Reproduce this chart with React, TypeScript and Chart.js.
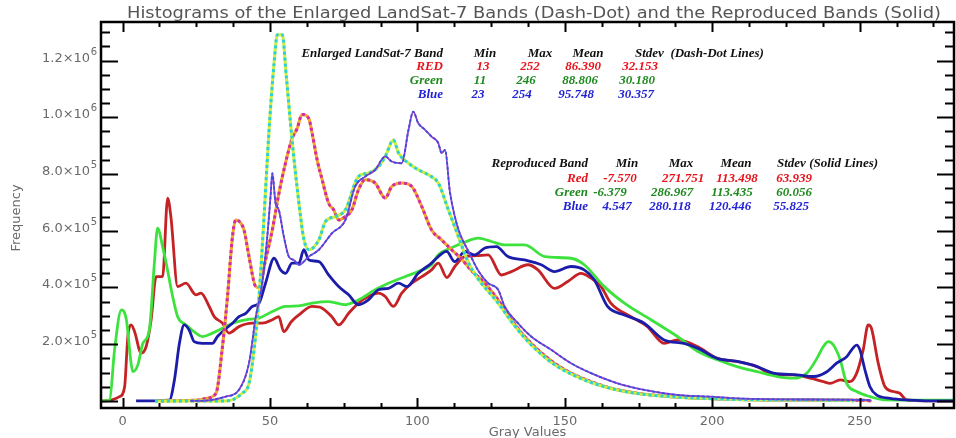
import React, { useEffect, useRef } from "react";
import { Chart, registerables } from "chart.js";
Chart.register(...registerables);

// Frequencies are given in thousands (×1000).
const SCALE = 1000;

const reproducedRedX = [-7.3, -6, -1, 0.7, 1.8, 2.9, 4.1, 6.3, 8, 9.7, 11.4, 13.6, 15.3, 16.4, 18.7, 21.5, 24.9, 26.6, 29.4, 31.1, 33.9, 36.1, 39.5, 44, 47.4, 50.8, 53, 54.7, 57.3, 59.8, 64.3, 67.7, 71, 73.3, 76.7, 80, 83.4, 86.8, 89.1, 91.9, 94.7, 98.1, 101.5, 104.8, 107.1, 110, 112.7, 116.1, 120, 124, 128.5, 131.9, 137.5, 140.9, 146.5, 151, 155.5, 158.9, 162.3, 165.6, 172.4, 178, 183.7, 188.2, 195, 201.7, 208.4, 215.2, 220.8, 227.6, 233.2, 237.7, 240, 243.4, 246.7, 249, 251.2, 252.9, 254, 256.3, 258.6, 261.4, 263.6, 265.9, 273.6, 282];
const reproducedRed = [0, 0, 15, 49, 227, 268, 244, 169, 191, 286, 438, 438, 715, 650, 403, 415, 374, 380, 333, 297, 274, 239, 262, 274, 274, 286, 297, 244, 280, 303, 333, 327, 297, 268, 309, 345, 368, 380, 368, 333, 380, 415, 438, 462, 486, 435, 474, 509, 512, 515, 444, 456, 480, 462, 397, 421, 450, 433, 403, 345, 297, 262, 203, 215, 192, 150, 139, 121, 92, 92, 80, 68, 62, 74, 68, 98, 180, 268, 256, 133, 50, 33, 27, 4, 0, 0];

const reproducedGreenX = [-7.3, -6.6, -4.4, -2.7, -0.4, 1.3, 2.9, 3.5, 5.2, 6.9, 9.1, 10.8, 11.9, 13.6, 14.8, 17, 18.7, 21.5, 24.9, 27.1, 30.5, 33.9, 37.3, 41.8, 46.3, 50.8, 55.3, 59.8, 64.3, 69.9, 75.6, 80, 85.7, 90.2, 95.8, 100.3, 104.8, 107.1, 111.6, 116.1, 120.6, 125.1, 129.6, 136.4, 143.2, 152.1, 156.6, 163.4, 170.2, 179.2, 188.2, 195, 201.7, 208.4, 215.2, 222, 227.6, 232.1, 235.5, 237.7, 239.4, 241.1, 243.4, 245.6, 249, 253.5, 258, 270, 282];
const reproducedGreen = [0, 0, 3, 180, 321, 286, 133, 103, 127, 203, 250, 486, 609, 544, 486, 368, 297, 268, 239, 227, 239, 256, 274, 286, 292, 315, 333, 335, 345, 350, 339, 356, 392, 415, 438, 456, 480, 515, 540, 560, 574, 562, 550, 550, 509, 503, 480, 403, 345, 286, 227, 175, 145, 121, 103, 86, 80, 98, 150, 192, 209, 197, 145, 62, 33, 15, 4, 3, 3];

const reproducedBlueX = [4.6, 15.9, 17.6, 19.3, 20.9, 22.6, 24.3, 27.1, 30.5, 32.2, 34.5, 37.3, 39.5, 41.8, 44, 46.3, 48.5, 51.4, 53.6, 55.3, 57.5, 59.8, 61.5, 63.2, 66.6, 69.9, 73.3, 76.7, 80, 83.4, 86.8, 90.2, 93.6, 96.4, 100.3, 104.8, 107.1, 109.9, 112.7, 116.1, 119.5, 122.9, 126.8, 130.7, 136.4, 142, 146.5, 152.1, 156.6, 160, 164.5, 170.2, 176.9, 183.7, 190.4, 195, 201.7, 208.4, 215.2, 220.8, 228.7, 234.4, 238.9, 242.2, 245.6, 249, 250.1, 251.8, 253.5, 255.7, 260.3, 267, 273.6, 282];
const reproducedBlue = [0, 3, 74, 203, 268, 250, 209, 203, 203, 227, 250, 274, 297, 309, 333, 345, 415, 503, 462, 450, 486, 485, 533, 497, 491, 444, 403, 374, 339, 356, 392, 397, 415, 403, 450, 486, 509, 527, 491, 527, 515, 539, 544, 509, 497, 480, 456, 474, 462, 427, 333, 303, 274, 215, 203, 186, 150, 139, 121, 98, 92, 86, 103, 133, 156, 197, 180, 109, 50, 21, 9, 3, 0, 0];

const enlargedRedX = [13, 26, 28.3, 31.7, 33.9, 35.6, 37.3, 38.4, 40.1, 41.2, 42.9, 45.2, 46.3, 48.5, 50.8, 53, 55.3, 57.5, 59.2, 60.9, 63.2, 64.3, 66, 67.7, 69.9, 71.6, 73.3, 75.6, 77.8, 80, 82.3, 85.7, 89.1, 91.3, 94.7, 98.1, 101.5, 104.8, 108.2, 111.6, 115, 118.3, 122.9, 127.4, 131.9, 136.4, 140.9, 146.5, 152.1, 158.9, 165.6, 174.7, 186, 197.2, 208.4, 230, 252, 254];
const enlargedRed = [0, 3, 9, 27, 192, 368, 580, 638, 627, 603, 509, 403, 400, 497, 603, 730, 840, 925, 960, 1010, 995, 944, 850, 780, 697, 674, 638, 650, 674, 744, 780, 768, 715, 756, 768, 756, 685, 603, 568, 533, 500, 460, 415, 356, 286, 227, 180, 133, 98, 68, 45, 27, 15, 9, 5, 3, 2, 0];

const enlargedGreenX = [11, 35, 40.6, 42.9, 44.6, 46.3, 48, 49.7, 51.4, 52.5, 54.2, 55.5, 57.5, 59.8, 61.5, 63.2, 66.6, 68.8, 72.2, 75.6, 80, 83.4, 86.8, 89.1, 91.9, 93.6, 97, 100.3, 103.7, 107.1, 110.5, 113.9, 117.2, 120.6, 122.9, 127.4, 131.9, 136.4, 140.9, 146.5, 152.1, 158.9, 165.6, 174.7, 186, 197.2, 208.4, 230, 246, 248];
const enlargedGreen = [0, 0, 27, 62, 180, 368, 650, 956, 1191, 1291, 1291, 1150, 920, 700, 570, 533, 568, 632, 650, 674, 791, 803, 826, 862, 920, 874, 838, 815, 797, 768, 674, 580, 490, 430, 400, 345, 280, 222, 175, 128, 95, 65, 44, 26, 15, 9, 5, 3, 2, 0];

const enlargedBlueX = [23, 26, 35, 39.5, 42.9, 45.2, 47.4, 49.1, 50.2, 50.8, 51.9, 53, 54.7, 56.4, 58.1, 59.8, 63.2, 66.6, 71, 75.6, 78.9, 82.3, 85.7, 89.1, 91.3, 94.7, 97, 98.6, 100.3, 102.6, 104.8, 107.1, 108.2, 109.4, 111, 112.7, 114.4, 117.2, 120.6, 124, 127.4, 129.6, 134.1, 138.6, 145.4, 152.1, 158.9, 167.9, 176.9, 188.2, 199.4, 208.4, 230, 253, 254];
const enlargedBlue = [0, 0, 15, 39, 133, 297, 415, 580, 721, 803, 697, 674, 580, 509, 497, 480, 509, 533, 591, 638, 756, 791, 815, 862, 844, 838, 956, 1020, 979, 956, 932, 909, 874, 885, 740, 650, 590, 530, 460, 415, 392, 333, 274, 227, 180, 133, 98, 62, 39, 21, 15, 9, 5, 3, 0];

const xMajorTicks = [0, 50, 100, 150, 200, 250];
const xMinorStep = 12.5;
const yMajorTicks = [200000, 400000, 600000, 800000, 1000000, 1200000];
const yTickLabels = [["2.0×10", "5"], ["4.0×10", "5"], ["6.0×10", "5"], ["8.0×10", "5"], ["1.0×10", "6"], ["1.2×10", "6"]];
const yMinorStep = 50000;

const titleText = "Histograms of the Enlarged LandSat-7 Bands (Dash-Dot) and the Reproduced Bands (Solid)";
const xTitle = "Gray Values";
const yTitle = "Frequency";

const enlargedHeader = ["Enlarged LandSat-7 Band", "Min", "Max", "Mean", "Stdev  (Dash-Dot Lines)"];
const enlargedRows = [
  ["RED", "13", "252", "86.390", "32.153"],
  ["Green", "11", "246", "88.806", "30.180"],
  ["Blue", "23", "254", "95.748", "30.357"],
];
const reproducedHeader = ["Reproduced Band", "Min", "Max", "Mean", "Stdev (Solid Lines)"];
const reproducedRows = [
  ["Red", "-7.570", "271.751", "113.498", "63.939"],
  ["Green", "-6.379", "286.967", "113.435", "60.056"],
  ["Blue", "4.547", "280.118", "120.446", "55.825"],
];
const rowColors = ["#e8141c", "#1f8a1f", "#2424d6"];

function pts(xs: number[], ys: number[]) {
  return xs.map((x, i) => ({ x, y: ys[i] * SCALE }));
}

const overlayPlugin = {
  id: "overlay",
  afterDraw(chart: any) {
    const ctx: CanvasRenderingContext2D = chart.ctx;
    const xs = chart.scales.x;
    const ys = chart.scales.y;
    const { left, right, top, bottom } = chart.chartArea;
    ctx.save();

    // frame
    ctx.strokeStyle = "#000";
    ctx.lineWidth = 2.5;
    ctx.strokeRect(left, top, right - left, bottom - top);

    // x ticks (bottom and top)
    ctx.lineWidth = 2;
    for (let v = 0; v <= xs.max; v += xMinorStep) {
      const px = Math.round(xs.getPixelForValue(v)) + 0.5;
      const major = xMajorTicks.includes(v);
      const len = major ? 10 : 5;
      ctx.beginPath();
      ctx.moveTo(px, bottom);
      ctx.lineTo(px, bottom - len);
      ctx.moveTo(px, top);
      ctx.lineTo(px, top + len);
      ctx.stroke();
    }
    // y ticks (left and right)
    for (let v = 0; v <= ys.max; v += yMinorStep) {
      const py = Math.round(ys.getPixelForValue(v)) + 0.5;
      const major = v % 200000 === 0;
      const len = major ? 17 : 9;
      ctx.beginPath();
      ctx.moveTo(left, py);
      ctx.lineTo(left + len, py);
      ctx.moveTo(right, py);
      ctx.lineTo(right - len, py);
      ctx.stroke();
    }

    // x tick labels
    ctx.fillStyle = "#6a6a6a";
    ctx.font = "13px 'DejaVu Sans'";
    ctx.textAlign = "center";
    ctx.textBaseline = "alphabetic";
    xMajorTicks.forEach((v) => {
      ctx.fillText(String(v), xs.getPixelForValue(v), 425);
    });
    // y tick labels with superscript
    yMajorTicks.forEach((v, i) => {
      const py = ys.getPixelForValue(v);
      const [base, sup] = yTickLabels[i];
      ctx.font = "10px 'DejaVu Sans'";
      const sw = ctx.measureText(sup).width;
      ctx.textAlign = "right";
      ctx.fillText(sup, 97, py - 6);
      ctx.font = "13px 'DejaVu Sans'";
      ctx.fillText(base, 97 - sw - 0.5, py + 1);
    });

    // axis titles
    ctx.font = "13px 'DejaVu Sans'";
    ctx.textAlign = "center";
    ctx.fillText(xTitle, (left + right) / 2, 436);
    ctx.save();
    ctx.translate(20, (top + bottom) / 2 + 3);
    ctx.rotate(-Math.PI / 2);
    ctx.fillText(yTitle, 0, 0);
    ctx.restore();

    // title, stretched to its width in the reference
    ctx.font = "15px 'DejaVu Sans'";
    ctx.fillStyle = "#555";
    const tw = ctx.measureText(titleText).width;
    const target = 814;
    ctx.save();
    ctx.translate(534, 18);
    ctx.scale(target / tw, 1);
    ctx.textAlign = "center";
    ctx.fillText(titleText, 0, 0);
    ctx.restore();

    // tables
    const font = "bold italic 13px 'Liberation Serif'";
    ctx.font = font;
    ctx.textBaseline = "middle";
    const drawTable = (
      header: string[], rows: string[][], hy: number, rowY: number[],
      labelRight: number, hCols: number[], cols: number[][]
    ) => {
      ctx.fillStyle = "#111";
      ctx.textAlign = "right";
      ctx.fillText(header[0], labelRight, hy);
      ctx.textAlign = "center";
      ctx.fillText(header[1], hCols[0], hy);
      ctx.fillText(header[2], hCols[1], hy);
      ctx.fillText(header[3], hCols[2], hy);
      ctx.textAlign = "left";
      ctx.fillText(header[4], hCols[3], hy);
      rows.forEach((r, i) => {
        ctx.fillStyle = rowColors[i];
        ctx.textAlign = "right";
        ctx.fillText(r[0], labelRight, rowY[i]);
        ctx.textAlign = "center";
        for (let c = 1; c < 5; c++) ctx.fillText(r[c], cols[i][c - 1], rowY[i]);
      });
    };
    drawTable(enlargedHeader, enlargedRows, 54, [67, 81, 95], 443,
      [485, 540, 588, 635],
      [[483, 530, 583, 640], [480, 526, 580, 637], [478, 522, 576, 636]]);
    drawTable(reproducedHeader, reproducedRows, 164, [178.5, 192.5, 207], 588,
      [627, 681, 736, 777],
      [[620, 683, 737, 794], [610, 672, 732, 794], [617, 670, 730, 791]]);

    ctx.restore();
  },
};

export default function App() {
  const ref = useRef<HTMLCanvasElement | null>(null);
  useEffect(() => {
    if (!ref.current) return;
    const line = (data: any, color: string, width: number, dash: number[] = []) => ({
      data,
      borderColor: color,
      backgroundColor: color,
      borderWidth: width,
      borderDash: dash,
      pointRadius: 0,
      fill: false,
      cubicInterpolationMode: "monotone" as const,
      borderJoinStyle: "round" as const,
      borderCapStyle: "butt" as const,
    });
    const chart = new Chart(ref.current, {
      type: "line",
      data: {
        datasets: [
          line(pts(enlargedBlueX, enlargedBlue), "#3a4fe0", 1.8, [3, 2]),
          line(pts(enlargedBlueX, enlargedBlue), "#9a3fc8", 1.8),
          line(pts(enlargedGreenX, enlargedGreen), "#2ad2d6", 3, [3, 3]),
          line(pts(enlargedGreenX, enlargedGreen), "#cfee3c", 3),
          line(pts(enlargedRedX, enlargedRed), "#d42aa8", 3, [3, 3]),
          line(pts(enlargedRedX, enlargedRed), "#f0a62a", 3),
          line(pts(reproducedBlueX, reproducedBlue), "#1c1caa", 2.8),
          line(pts(reproducedGreenX, reproducedGreen), "#3ee23e", 2.8),
          line(pts(reproducedRedX, reproducedRed), "#c42224", 2.8),
        ],
      },
      options: {
        responsive: false,
        animation: false,
        parsing: false as any,
        layout: { padding: { left: 101, right: 2, top: 22, bottom: 30 } },
        plugins: { legend: { display: false }, tooltip: { enabled: false }, title: { display: false } },
        scales: {
          x: { type: "linear", min: -7.3, max: 282, display: false },
          y: { type: "linear", min: -25000, max: 1336000, display: false },
        },
      },
      plugins: [overlayPlugin],
    });
    return () => chart.destroy();
  }, []);
  return (
    <div style={{ position: "absolute", left: 0, top: 0, width: 956, height: 438, background: "#fff" }}>
      <canvas ref={ref} width={956} height={438} style={{ display: "block" }} />
    </div>
  );
}
